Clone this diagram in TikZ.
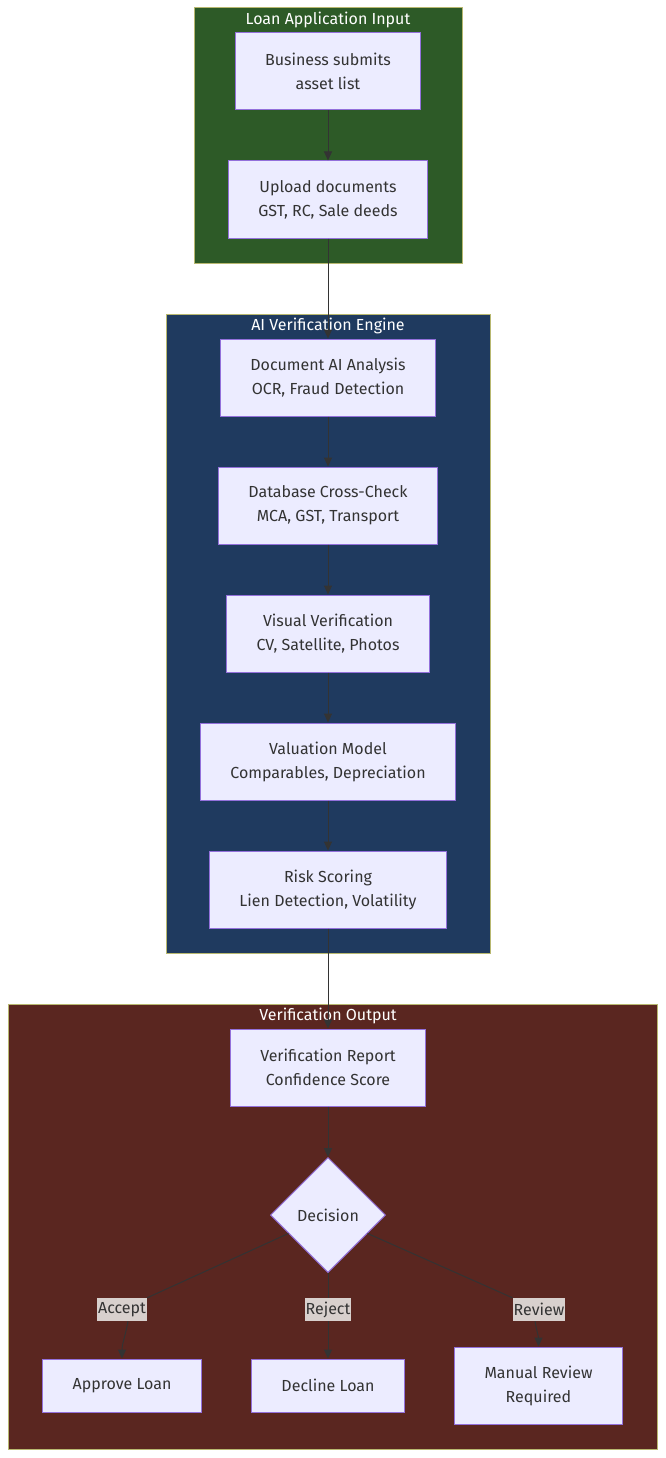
\documentclass[tikz,border=0pt]{standalone}
\usepackage{fontspec}
\setmainfont{Fira Sans}
\usetikzlibrary{shapes.geometric,arrows.meta}
\definecolor{boxfill}{HTML}{ECECFF}
\definecolor{boxline}{HTML}{9370DB}
\definecolor{ink}{HTML}{333333}
\definecolor{inputbg}{HTML}{2D5A27}
\definecolor{enginebg}{HTML}{1F3A5F}
\definecolor{outputbg}{HTML}{5A2620}
\definecolor{clusterline}{HTML}{B8B870}
\definecolor{labelbg}{HTML}{D8D0CD}
\tikzset{
  box/.style={draw=boxline, fill=boxfill, text=ink, align=center,
    font=\fontsize{16}{24}\selectfont, inner xsep=30pt, minimum height=77pt, line width=1pt},
  choice/.style={diamond, draw=boxline, fill=boxfill, text=ink, inner sep=0pt,
    font=\fontsize{16}{24}\selectfont, minimum width=115pt, minimum height=115pt, line width=1pt},
  cluster/.style={draw=clusterline, line width=1pt},
  title/.style={text=white, font=\fontsize{16}{20}\selectfont},
  edgelabel/.style={fill=labelbg, text=ink, inner xsep=1pt, inner ysep=0pt,
    minimum height=23pt, font=\fontsize{16}{20}\selectfont},
  flow/.style={draw=ink, line width=1pt, -{Triangle[length=9pt,width=8pt]}},
  link/.style={draw=ink, line width=1pt}
}
\begin{document}
\begin{tikzpicture}[x=1pt,y=-1pt]
  \useasboundingbox[fill=white] (0,0) rectangle (666,1458);
  % subgraphs
  \draw[cluster, fill=inputbg] (194,8) rectangle (462,263);
  \draw[cluster, fill=enginebg] (166,314) rectangle (490,953);
  \draw[cluster, fill=outputbg] (8,1004) rectangle (657,1449);
  \node[title] (tinput) at (328,19.5) {Loan Application Input};
  \node[title] (tengine) at (328,325.5) {AI Verification Engine};
  \node[title] (toutput) at (328,1015.5) {Verification Output};

  % nodes
  \node[box] (submit) at (328,71.5) {Business submits\\asset list};
  \node[box] (upload) at (328,199.5) {Upload documents\\GST, RC, Sale deeds};
  \node[box] (docai) at (328,377.5) {Document AI Analysis\\OCR, Fraud Detection};
  \node[box] (dbcheck) at (328,505.5) {Database Cross-Check\\MCA, GST, Transport};
  \node[box] (visual) at (328,633.5) {Visual Verification\\CV, Satellite, Photos};
  \node[box] (valuation) at (328,761.5) {Valuation Model\\Comparables, Depreciation};
  \node[box] (risk) at (328,889.5) {Risk Scoring\\Lien Detection, Volatility};
  \node[box] (report) at (328,1067.5) {Verification Report\\Confidence Score};
  \node[choice] (decision) at (328,1215) {Decision};
  \node[box, minimum height=53pt] (approve) at (122,1385.5) {Approve Loan};
  \node[box, minimum height=53pt] (decline) at (328,1385.5) {Decline Loan};
  \node[box] (manual) at (538.5,1385.5) {Manual Review\\Required};

  % edge labels
  \node[edgelabel] (accept) at (122,1309.5) {Accept};
  \node[edgelabel] (reject) at (328,1309.5) {Reject};
  \node[edgelabel] (review) at (539,1309.5) {Review};

  \begin{scope}
    \draw[flow] (submit) -- (upload);
    \draw[flow] (upload) -- (docai);
    \draw[flow] (docai) -- (dbcheck);
    \draw[flow] (dbcheck) -- (visual);
    \draw[flow] (visual) -- (valuation);
    \draw[flow] (valuation) -- (risk);
    \draw[flow] (risk) -- (report);
    \draw[flow] (report) -- (decision);
    \draw[link] (decision.205) -- (accept.north east);
    \draw[flow] ([xshift=6pt]accept.south) to[out=-100,in=90] (approve.north);
    \draw[link] (decision) -- (reject);
    \draw[flow] (reject) -- (decline);
    \draw[link] (decision.335) -- (review.north west);
    \draw[flow] ([xshift=-4pt]review.south) to[out=-80,in=90] (manual.north);
  \end{scope}
\end{tikzpicture}
\end{document}
